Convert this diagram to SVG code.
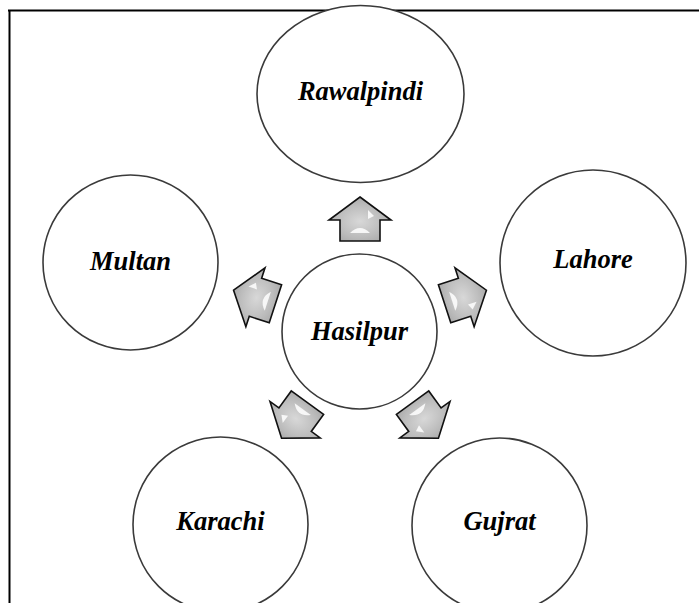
<svg xmlns="http://www.w3.org/2000/svg" xmlns:xlink="http://www.w3.org/1999/xlink" width="699" height="603" viewBox="0 0 699 603">
  <style>
    .node { fill: #ffffff; stroke: #3a3a3a; stroke-width: 1.6; }
    .label { font-family: "Liberation Serif", "Times New Roman", serif; font-weight: bold; font-style: italic; font-size: 26.5px; fill: #000000; text-anchor: middle; }
    .frame { stroke: #000000; stroke-width: 2; fill: none; }
  </style>
  <defs>
    <radialGradient id="arrowFill" cx="0.5" cy="0.55" r="0.6">
      <stop offset="0" stop-color="#d8d8d8"/>
      <stop offset="0.6" stop-color="#bcbcbc"/>
      <stop offset="1" stop-color="#a6a6a6"/>
    </radialGradient>
    <g id="arrow">
      <path d="M0,-22 L31,1 L20,1 L20,22 L-20,22 L-20,1 L-31,1 Z" fill="url(#arrowFill)" stroke="#111111" stroke-width="1.6" stroke-linejoin="miter"/>
      <path d="M8,-9 L14,-3 L8,0 Z" fill="#ffffff" opacity="0.85"/>
      <path d="M-10,14 Q0,4 10,14 Z" fill="#ffffff" opacity="0.85"/>
    </g>
  </defs>

  <rect x="0" y="0" width="699" height="603" fill="#ffffff"/>

  <g id="frame">
    <line class="frame" x1="8" y1="10.5" x2="699" y2="10.5"/>
    <line class="frame" x1="9.5" y1="10" x2="9.5" y2="603"/>
  </g>

  <g id="connectors">
    <use xlink:href="#arrow" transform="translate(360,219)"/>
    <use xlink:href="#arrow" transform="translate(254.5,297) rotate(-72)"/>
    <use xlink:href="#arrow" transform="translate(465.5,297) rotate(72)"/>
    <use xlink:href="#arrow" transform="translate(294.5,420.5) rotate(-144)"/>
    <use xlink:href="#arrow" transform="translate(425.5,420.5) rotate(144)"/>
  </g>

  <g id="node-rawalpindi">
    <ellipse class="node" cx="360.5" cy="94" rx="103.5" ry="88.5"/>
    <text class="label" x="360.5" y="100">Rawalpindi</text>
  </g>
  <g id="node-multan">
    <circle class="node" cx="130.5" cy="262.5" r="87.5"/>
    <text class="label" x="130.5" y="270">Multan</text>
  </g>
  <g id="node-lahore">
    <circle class="node" cx="593" cy="263" r="93"/>
    <text class="label" x="593" y="268">Lahore</text>
  </g>
  <g id="node-hasilpur">
    <circle class="node" cx="359.5" cy="331.5" r="77.5"/>
    <text class="label" x="359.5" y="340">Hasilpur</text>
  </g>
  <g id="node-karachi">
    <circle class="node" cx="220.5" cy="524.5" r="87.5"/>
    <text class="label" x="220.5" y="530">Karachi</text>
  </g>
  <g id="node-gujrat">
    <circle class="node" cx="499.5" cy="525.5" r="87.5"/>
    <text class="label" x="499.5" y="530">Gujrat</text>
  </g>
</svg>
